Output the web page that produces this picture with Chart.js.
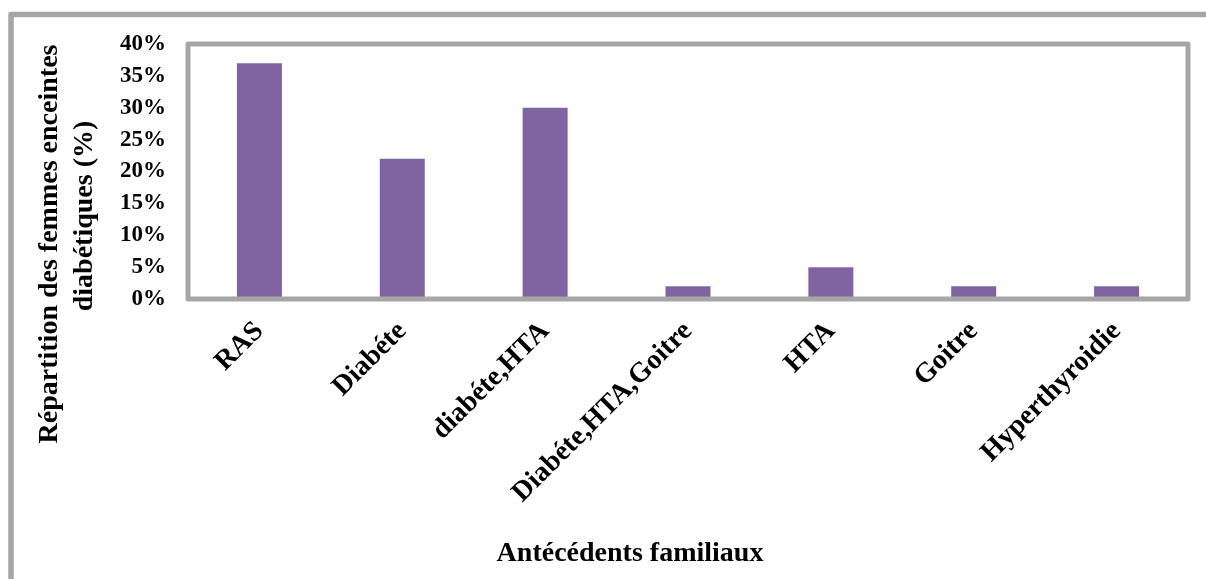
<!DOCTYPE html>
<html>
<head>
<meta charset="utf-8">
<script src="https://cdn.jsdelivr.net/npm/chart.js@4/dist/chart.umd.min.js"></script>
<style>
  html, body { margin: 0; padding: 0; background: #ffffff; }
  #wrap { width: 1206px; height: 579px; position: relative; }
</style>
</head>
<body>
<div id="wrap"><canvas id="chart" width="1206" height="579"></canvas></div>
<script>
// Family history categories and share of diabetic pregnant women (%)
const categories = ['RAS', 'Diabéte', 'diabéte,HTA', 'Diabéte,HTA,Goitre', 'HTA', 'Goitre', 'Hyperthyroidie'];
const percentages = [37, 22, 30, 2, 5, 2, 2];
const yMin = 0;
const yMax = 40;
const yStep = 5;
const xTitle = 'Antécédents familiaux';
const yTitleLines = ['Répartition des femmes enceintes', 'diabétiques (%)'];

const SERIF = "'Liberation Serif', 'Times New Roman', serif";
const FRAME = '#a6a6a6';
const BAR = '#8064a2';

// Outer frame, plot-area frame and the axis titles
const decorations = {
  id: 'decorations',
  beforeDraw(chart) {
    const ctx = chart.ctx;
    ctx.save();
    ctx.fillStyle = '#ffffff';
    ctx.fillRect(0, 0, chart.width, chart.height);
    ctx.strokeStyle = FRAME;
    ctx.lineWidth = 5.5;
    ctx.lineJoin = 'round';
    ctx.beginPath();
    ctx.moveTo(11, chart.height + 10);
    ctx.lineTo(11, 14.5);
    ctx.lineTo(chart.width + 10, 14.5);
    ctx.stroke();
    ctx.restore();
  },
  afterDraw(chart) {
    const ctx = chart.ctx;
    const a = chart.chartArea;
    ctx.save();
    ctx.strokeStyle = FRAME;
    ctx.lineWidth = 5;
    ctx.lineJoin = 'round';
    ctx.strokeRect(a.left, a.top, a.right - a.left, a.bottom - a.top);

    ctx.fillStyle = '#000000';
    ctx.font = 'bold 28px ' + SERIF;
    ctx.textAlign = 'center';
    ctx.textBaseline = 'middle';
    ctx.fillText(xTitle, 630, 554);

    ctx.save();
    ctx.translate(50, 244);
    ctx.rotate(-Math.PI / 2);
    ctx.fillText(yTitleLines[0], 0, 0);
    ctx.restore();
    ctx.save();
    ctx.translate(85, 216);
    ctx.rotate(-Math.PI / 2);
    ctx.fillText(yTitleLines[1], 0, 0);
    ctx.restore();
    ctx.restore();
  }
};

new Chart(document.getElementById('chart'), {
  type: 'bar',
  data: {
    labels: categories,
    datasets: [{
      data: percentages,
      backgroundColor: BAR,
      borderWidth: 0,
      categoryPercentage: 1,
      barPercentage: 0.315
    }]
  },
  options: {
    responsive: false,
    devicePixelRatio: 1,
    animation: false,
    layout: { padding: { left: 0, top: 44, right: 18, bottom: 0 } },
    plugins: {
      legend: { display: false },
      tooltip: { enabled: false },
      title: { display: false }
    },
    scales: {
      x: {
        grid: { display: false, drawTicks: false },
        border: { display: false },
        ticks: {
          autoSkip: false,
          minRotation: 45,
          maxRotation: 45,
          padding: 16,
          color: '#000000',
          font: { family: SERIF, size: 28, weight: 'bold' }
        },
        afterFit(scale) { scale.height = 280; }
      },
      y: {
        min: yMin,
        max: yMax,
        grid: { display: false, drawTicks: false },
        border: { display: false },
        ticks: {
          stepSize: yStep,
          padding: 22,
          color: '#000000',
          font: { family: SERIF, size: 23, weight: 'bold' },
          callback: (v) => v + '%'
        },
        afterFit(scale) { scale.width = 188; }
      }
    }
  },
  plugins: [decorations]
});
</script>
</body>
</html>
